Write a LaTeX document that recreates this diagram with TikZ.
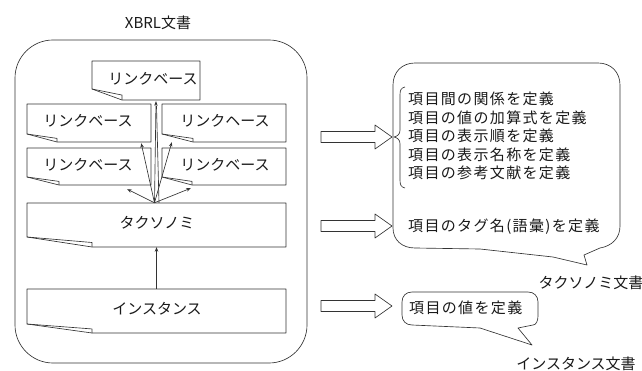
\documentclass[tikz,border=0pt]{standalone}
\usepackage{fontspec}
\setmainfont{Noto Sans CJK JP}
\newfontfamily\jpw{Noto Sans CJK JP}[LetterSpace=9]
\usetikzlibrary{arrows.meta,calc}
\newcommand\docbox[9]{% name x1 y1 x2 y2 fw fh text textx
  \draw[ln] (#2,#5-#7) -- (#2,#3) -- (#4,#3) -- (#4,#5) -- (#2+#6,#5) -- cycle;
  \draw[ln] (#2,#5-#7) -- (#2+#6,#5-#7*0.45) -- (#2+#6,#5);
  \node[minimum width={#4-#2}, minimum height={#5-#3}, inner sep=0pt, draw=none]
    (#1) at ({(#2+#4)/2},{(#3+#5)/2}) {};
  \node[lbl] (#1-t) at (#9,{(#3+#5)/2-2}) {#8};
}
\newcommand\blockarrow[1]{%
  \draw[ln] (321,#1-5.5) -- (375,#1-5.5) -- (375,#1-12) -- (392,#1) -- (375,#1+12) -- (375,#1+5.5) -- (321,#1+5.5) -- cycle;}
\begin{document}
\begin{tikzpicture}[x=1pt,y=-1pt,line join=round,
  ln/.style={draw=black!80, line width=0.65pt},
  arr/.style={ln, -{Stealth[length=4.5pt,width=3.5pt]}},
  lbl/.style={font=\fontsize{15}{18}\selectfont, inner sep=0pt, text=black!90},
  rtx/.style={font=\jpw\fontsize{15}{18}\selectfont, inner sep=0pt, anchor=west, text=black!90}]
\useasboundingbox (0,0) rectangle (642,371);

% outer XBRL document
\node[lbl] (xbrl) at (158,23) {XBRL文書};
\draw[ln, rounded corners=38] (15,40) rectangle (307,363);

\docbox{top}{92}{61}{200}{100}{30}{11}{リンクベース}{153}
\docbox{ml}{27}{104}{151}{142}{30}{8}{リンクベース}{88}
\docbox{mr}{162}{104}{286}{142}{31}{8}{リンクヘース}{225}
\docbox{ll}{27}{148}{151}{185}{32}{8}{リンクベース}{88}
\docbox{lr}{162}{148}{286}{185}{30}{8}{リンクベース}{225}
\docbox{tax}{27}{203}{286}{247}{65}{10}{タクソノミ}{157}
\docbox{inst}{27}{289}{286}{333}{65}{9}{インスタンス}{157}

% connectors inside the XBRL document
\coordinate (s) at ($(tax.north)+(-2,0)$);
\coordinate (s2) at ($(tax.north)+(2.5,0)$);
\draw[arr] (s) -- ($(top.south)+(10,1)$);
\draw[ln] (s2) -- ($(top.south)+(10.5,6)$);
\draw[arr] (s) -- ($(ml.south east)+(-10,1)$);
\draw[arr] (s) -- ($(mr.south west)+(10,0)$);
\draw[arr] (s) -- ($(ll.south east)+(-24,4)$);
\draw[arr] (s) -- ($(lr.south west)+(29,3)$);
\draw[arr] (inst.north) -- (tax.south);

% block arrows
\blockarrow{137}
\blockarrow{226}
\blockarrow{306}

% taxonomy callout
\draw[ln] (415,63) -- (598,63) .. controls (611,63) and (620,72) .. (620,85)
  -- (620,226) .. controls (620,238) and (612,246) .. (600,248)
  -- (584,255) -- (587,265) -- (553,257) -- (480,249) -- (415,248)
  .. controls (402,248) and (393,240) .. (393,228)
  -- (393,85) .. controls (393,72) and (402,63) .. (415,63) -- cycle;
\draw[ln] (405,87) .. controls (401,88) and (400,90) .. (400,95) -- (400,130)
  .. controls (400,134) and (398,136) .. (394,137)
  .. controls (398,138) and (400,140) .. (400,144) -- (400,180)
  .. controls (400,185) and (401,187) .. (405,188);
\node[rtx] (l1) at (408,99) {項目間の関係を定義};
\node[rtx] (l2) at (408,117.5) {項目の値の加算式を定義};
\node[rtx] (l3) at (408,136) {項目の表示順を定義};
\node[rtx] (l4) at (408,154.5) {項目の表示名称を定義};
\node[rtx] (l5) at (408,173) {項目の参考文献を定義};
\node[rtx] (l6) at (408,227) {項目のタグ名(語彙)を定義};
\node[lbl] (taxdoc) at (591,283) {タクソノミ文書};

% instance callout
\draw[ln] (412,292) -- (528,292) .. controls (534,292) and (538,296) .. (538,302)
  -- (538,316) .. controls (538,321) and (536,325) .. (533,325)
  -- (518,328) -- (532,345) -- (480,328) -- (412,325)
  .. controls (406,325) and (402,321) .. (402,315)
  -- (402,302) .. controls (402,296) and (406,292) .. (412,292) -- cycle;
\node[rtx] (iv) at (409,308) {項目の値を定義};
\node[lbl] (instdoc) at (576,364) {インスタンス文書};
\end{tikzpicture}
\end{document}
